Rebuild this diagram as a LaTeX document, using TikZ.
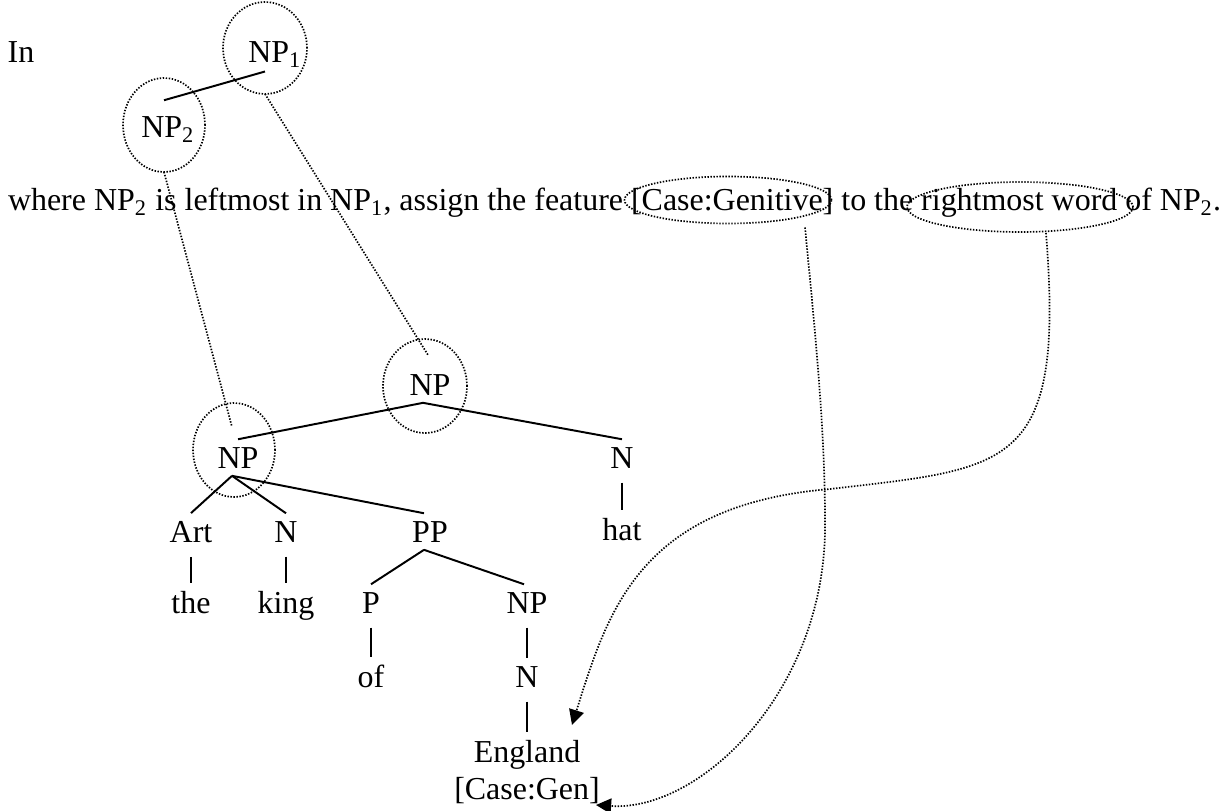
\documentclass[tikz,border=0pt]{standalone}
\usepackage{fontspec}
\setmainfont{Liberation Serif}
\usetikzlibrary{shapes.geometric,arrows.meta,calc}
\newlength\pxu
\setlength\pxu{0.3834pt}
\begin{document}
\begin{tikzpicture}[x=0.3834pt,y=-0.3834pt,
  txt/.style={font=\fontsize{12.25}{14.7}\selectfont, inner sep=3pt, outer sep=0pt, anchor=base},
  dots/.style={line width=0.65pt, dash pattern=on 0.55pt off 0.6pt},
  ring/.style={dots, draw, ellipse, inner sep=0pt, outer sep=0pt},
  branch/.style={line width=0.75pt},
  bar/.style={line width=0.45pt, shorten <=2.6pt},
  arr/.style={-{Triangle[length=5.8pt,width=5.8pt]}}]
\useasboundingbox (0,0) rectangle (1226,811);

% top rule
\node[txt] (in) at (21,63) {In};
\node[txt] (np1) at (275,63) {NP\textsubscript{1}};
\node[txt] (np2) at (168,138) {NP\textsubscript{2}};
\node[ring, minimum width=84\pxu, minimum height=92\pxu] (c1) at (265,48) {};
\node[ring, minimum width=82\pxu, minimum height=94\pxu] (c2) at (164,125) {};
\draw[branch] ($(np2.north)+(-4,-9)$) -- ($(np1.south)+(-10,-4)$);

% sentence
\node[txt, anchor=base west, inner sep=0pt] (sent) at (8,211) {where NP\textsubscript{2} is leftmost in NP\textsubscript{1}, assign the feature [Case:Genitive] to the rightmost word of NP\textsubscript{2}.};
\node[ring, minimum width=207\pxu, minimum height=47\pxu] (cgen) at (728,200) {};
\node[ring, minimum width=226\pxu, minimum height=50\pxu] (crw) at (1020,207) {};

% tree
\node[txt] (root) at (430,395) {NP};
\node[ring, minimum width=84\pxu, minimum height=94\pxu] (croot) at (425,386) {};
\node[txt] (lnp) at (238,468) {NP};
\node[ring, minimum width=82\pxu, minimum height=94\pxu] (clnp) at (234,450) {};
\node[txt] (nhat) at (622,468) {N};
\node[txt] (hat) at (622,540) {hat};
\node[txt] (art) at (191,542) {Art};
\node[txt] (nk) at (286,542) {N};
\node[txt] (pp) at (430,542) {PP};
\node[txt] (the) at (191,613) {the};
\node[txt] (king) at (286,613) {king};
\node[txt] (p) at (371,613) {P};
\node[txt] (np3) at (527,613) {NP};
\node[txt] (of) at (371,687) {of};
\node[txt] (n3) at (527,687) {N};
\node[txt] (england) at (527,762) {England};
\node[txt] (casegen) at (527,799) {[Case:Gen]};

\draw[branch] ([xshift=-7\pxu]root.south) -- (lnp.north);
\draw[branch] ([xshift=-7\pxu]root.south) -- (nhat.north);
\draw[branch] ([xshift=-6\pxu]lnp.south) -- (art.north);
\draw[branch] ([xshift=-6\pxu]lnp.south) -- (nk.north);
\draw[branch] ([xshift=-6\pxu]lnp.south) -- ([xshift=-6\pxu]pp.north);
\draw[branch] ([xshift=-6\pxu]pp.south) -- (p.north);
\draw[branch] ([xshift=-6\pxu]pp.south) -- ([xshift=-3\pxu]np3.north);

\draw[bar] (art.south) -- (the.north);
\draw[bar] (nk.south) -- (king.north -| nk.south);
\draw[bar] (nhat.south) -- (hat.north);
\draw[bar] (p.south) -- (of.north);
\draw[bar] (np3.south) -- (n3.north);
\draw[bar] (n3.south) -- (england.north);

% dotted links
\draw[dots] (c1.south) -- ($(croot.north)+(3,16)$);
\draw[dots] (c2.south) -- ($(clnp.north)+(-2,24)$);

\coordinate (tip1) at (572,725);
\coordinate (tip2) at (596,805);
\draw[dots, arr] ($(crw.south)+(26,1)$) .. controls (1065,470) and (1010,468) .. (830,489)
   .. controls (640,505) and (608,610) .. (tip1);
\draw[dots, arr] ($(cgen.south)+(77,4)$) .. controls (815,330) and (825,430) .. (825,520)
   .. controls (828,690) and (700,812) .. (tip2);
\end{tikzpicture}
\end{document}
